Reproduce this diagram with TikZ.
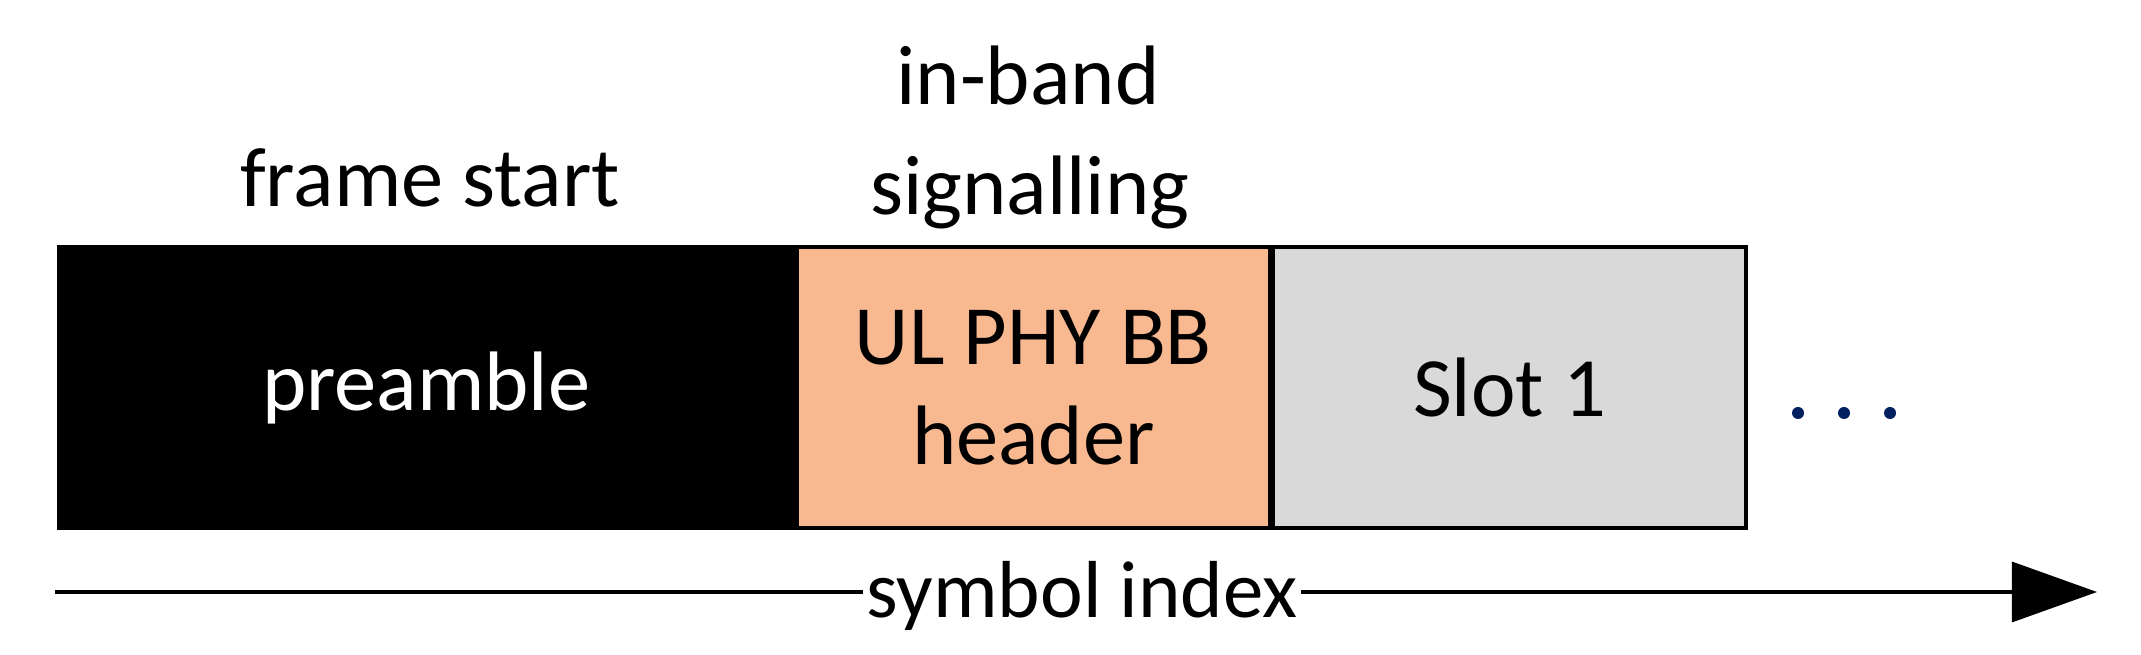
\documentclass[tikz,border=0pt]{standalone}
\usepackage{fontspec}
\setmainfont{Carlito}
\usetikzlibrary{arrows.meta}
\definecolor{hdrorange}{HTML}{F8B890}
\definecolor{slotgray}{HTML}{D9D9D9}
\definecolor{dotnavy}{HTML}{002060}
\begin{document}
\begin{tikzpicture}[x=0.01cm,y=-0.01cm,
  lbl/.style={font=\fontsize{24}{30}\selectfont, inner sep=0pt, anchor=base},
  seg/.style={draw=black, line width=1.1pt, minimum height=2.81cm, inner sep=0pt,
              anchor=north west, font=\fontsize{24}{28.5}\selectfont, align=center},
  dotc/.style={fill=dotnavy, draw=none, circle, minimum size=0.12cm, inner sep=0pt}]
\useasboundingbox (0,0) rectangle (2141,655);
% segments
\node[seg, fill=black, text=white, minimum width=7.34cm] (pre) at (57,245) {preamble};
\node[seg, fill=hdrorange, minimum width=4.72cm] (hdr) at (pre.north east) {UL PHY BB\\header};
\node[seg, fill=slotgray, minimum width=4.72cm] (slot) at (hdr.north east) {Slot 1};
% labels above
\node[lbl] (fs) at (430,207) {frame start};
\node[lbl] (ib) at (1028,105) {in-band};
\node[lbl] (sg) at (1030,215) {signalling};
% dots
\node[dotc] (d1) at (1798,413) {};
\node[dotc] (d2) at (1844,413) {};
\node[dotc] (d3) at (1890,413) {};
% axis
\coordinate (a0) at (55,592);
\coordinate (a1) at (2097,592);
\draw[line width=0.9pt, -{Triangle[length=0.85cm,width=0.6cm]}] (a0) -- (a1);
\node[lbl, font=\fontsize{23}{28}\selectfont, fill=white, inner xsep=1pt, inner ysep=2pt] (si) at (1082,618) {symbol index};
\end{tikzpicture}
\end{document}
